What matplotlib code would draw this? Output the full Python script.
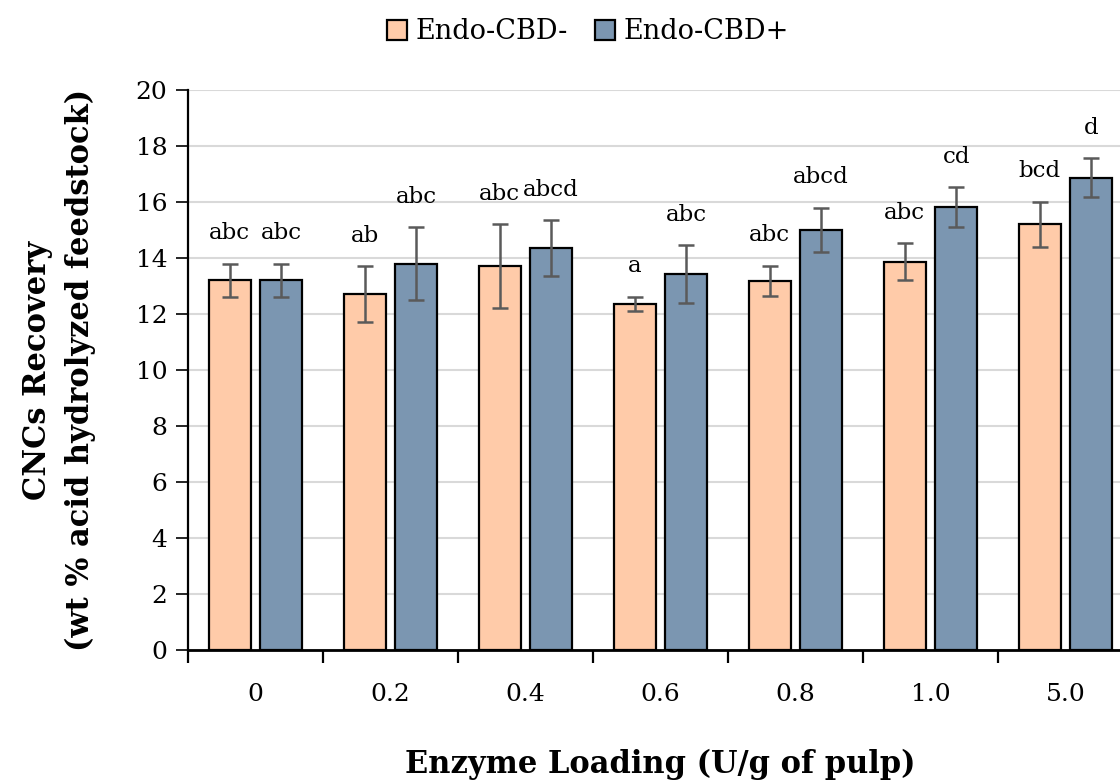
import matplotlib.pyplot as plt
import numpy as np

plt.rcParams['font.family'] = ['DejaVu Serif']

# data
loadings = ['0', '0.2', '0.4', '0.6', '0.8', '1.0', '5.0']
cbd_minus = [13.2, 12.7, 13.7, 12.36, 13.18, 13.87, 15.2]
cbd_minus_err = [0.6, 1.0, 1.5, 0.25, 0.55, 0.65, 0.81]
cbd_plus = [13.2, 13.8, 14.35, 13.43, 15.0, 15.82, 16.87]
cbd_plus_err = [0.6, 1.3, 1.0, 1.03, 0.8, 0.7, 0.69]
lab_minus = ['abc', 'ab', 'abc', 'a', 'abc', 'abc', 'bcd']
lab_plus = ['abc', 'abc', 'abcd', 'abc', 'abcd', 'cd', 'd']

c_minus = '#FFCBA9'
c_plus = '#7B96B1'

fig = plt.figure(figsize=(11.2, 7.83), dpi=100)
ax = fig.add_axes([188/1120, 133/783, 945/1120, 560/783])

x = np.arange(len(loadings))
w = 0.31
off = 0.19
ekw = dict(ecolor='#5a5a5a', elinewidth=1.8, capsize=6, capthick=1.8)
ax.bar(x - off, cbd_minus, w, yerr=cbd_minus_err, color=c_minus, edgecolor='black',
       linewidth=1.6, error_kw=ekw, label='Endo-CBD-', zorder=3)
ax.bar(x + off, cbd_plus, w, yerr=cbd_plus_err, color=c_plus, edgecolor='black',
       linewidth=1.6, error_kw=ekw, label='Endo-CBD+', zorder=3)

# significance letters above the error bars
for i in range(len(x)):
    ax.text(x[i] - off, cbd_minus[i] + cbd_minus_err[i] + 0.7, lab_minus[i],
            ha='center', va='bottom', fontsize=16.5)
    ax.text(x[i] + off, cbd_plus[i] + cbd_plus_err[i] + 0.7, lab_plus[i],
            ha='center', va='bottom', fontsize=16.5)

ax.set_xlim(-0.5, len(x) - 0.5)
ax.set_ylim(0, 20)
ax.set_yticks(np.arange(0, 21, 2))
ax.set_xticks(x)
ax.set_xticklabels(loadings)
ax.set_xticks(np.arange(-0.5, len(x), 1), minor=True)
ax.tick_params(axis='x', which='major', length=0, pad=24, labelsize=18)
ax.tick_params(axis='x', which='minor', length=9, width=1.6, direction='out')
ax.tick_params(axis='y', length=9, width=1.2, labelsize=18, pad=6)
ax.grid(axis='y', color='#d9d9d9', linewidth=1.5, zorder=0)
ax.set_axisbelow(True)
for s in ['top', 'right']:
    ax.spines[s].set_visible(False)
ax.spines['left'].set_linewidth(1.6)
ax.spines['bottom'].set_linewidth(2)

ax.set_xlabel('Enzyme Loading (U/g of pulp)', fontsize=22, fontweight='bold', va='center')
ax.xaxis.set_label_coords(0.5, -0.205)
ax.set_ylabel('CNCs Recovery\n(wt % acid hydrolyzed feedstock)', fontsize=22,
              fontweight='bold', linespacing=1.45, va='center')
ax.yaxis.set_label_coords(-0.1365, 0.5)

fig.legend(loc='upper center', bbox_to_anchor=(0.525, 1.008), ncol=2, frameon=False,
           fontsize=19.5, handlelength=0.75, handleheight=0.75, handletextpad=0.3,
           columnspacing=1.0)

fig.savefig('out.png', dpi=100)
